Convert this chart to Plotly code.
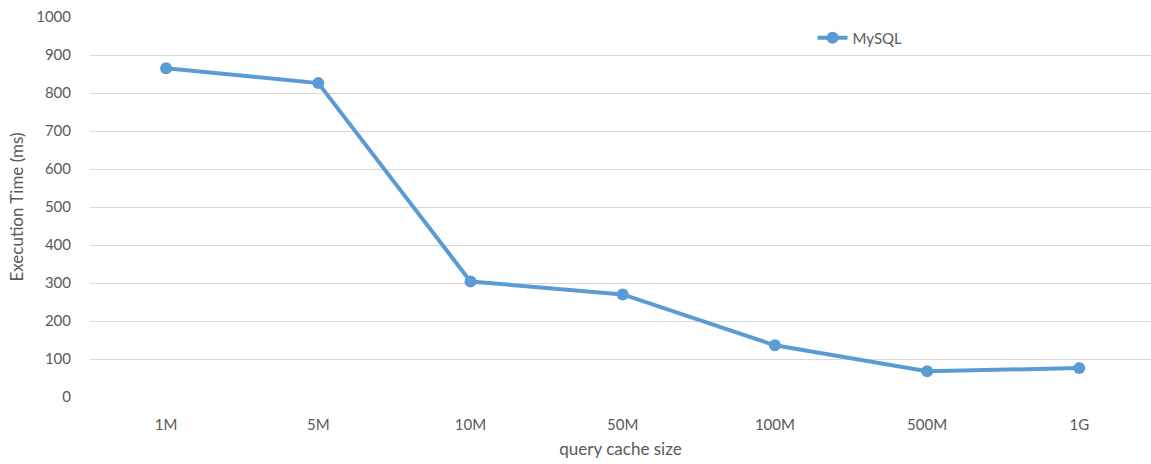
import plotly.graph_objects as go

# Query cache size vs. execution time
cache_sizes = ["1M", "5M", "10M", "50M", "100M", "500M", "1G"]
mysql_ms = [865, 826, 304, 270, 136, 68, 76]
y_ticks = [0, 100, 200, 300, 400, 500, 600, 700, 800, 900, 1000]

W, H = 1151, 464
left, right, top, bottom = 90, 0, 17, 67

fig = go.Figure()
fig.add_trace(go.Scatter(
    x=list(range(len(cache_sizes))),
    y=mysql_ms,
    mode="lines+markers",
    name="MySQL",
    line=dict(color="#5b9bd5", width=4),
    marker=dict(color="#5b9bd5", size=12),
))

font = dict(family="Lato, 'Open Sans', sans-serif", color="#595959")

fig.update_layout(
    width=W, height=H,
    margin=dict(l=left, r=right, t=top, b=bottom),
    paper_bgcolor="white", plot_bgcolor="white",
    font=dict(**font, size=15),
    showlegend=True,
    legend=dict(
        x=0.681, y=0.945, xanchor="left", yanchor="middle",
        bgcolor="rgba(0,0,0,0)", font=dict(**font, size=15),
        itemwidth=30,
    ),
    xaxis=dict(
        range=[-0.5, 6.471],
        tickmode="array",
        tickvals=list(range(len(cache_sizes))),
        ticktext=cache_sizes,
        showgrid=False, zeroline=False, showline=False,
        ticks="outside", ticklen=14, tickcolor="rgba(0,0,0,0)",
        tickfont=dict(**font, size=15),
        title=dict(text="query cache size", font=dict(**font, size=17), standoff=11),
    ),
    yaxis=dict(
        range=[0, 1000],
        tickmode="array",
        tickvals=y_ticks,
        showgrid=True, gridcolor="#d9d9d9", gridwidth=1,
        zeroline=False, showline=False,
        ticks="outside", ticklen=15, tickcolor="rgba(0,0,0,0)",
        tickfont=dict(**font, size=15),
        title=dict(text="Execution Time (ms)", font=dict(**font, size=17), standoff=8),
    ),
)

fig.write_html("out.html")
